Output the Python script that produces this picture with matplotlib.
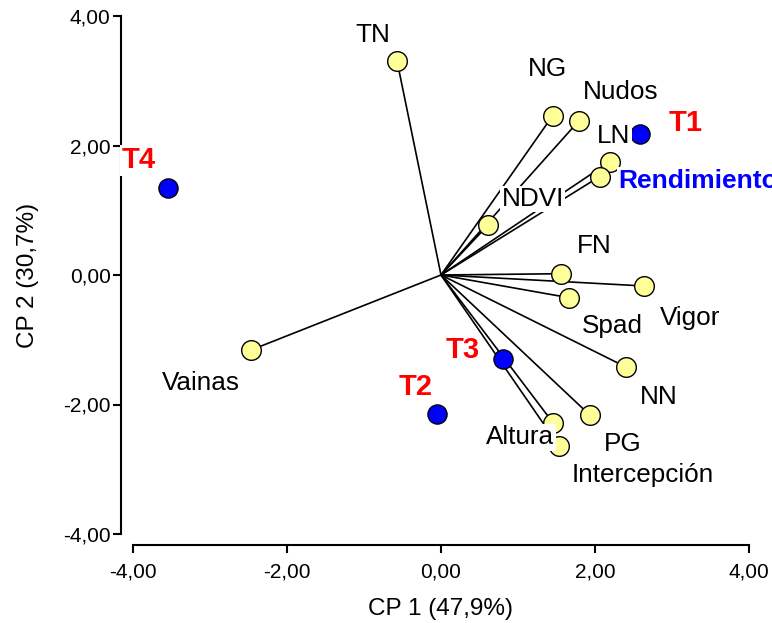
import matplotlib
matplotlib.use("Agg")
import matplotlib.pyplot as plt

# variable loadings (biplot vectors)
variables = ["TN", "NG", "Nudos", "LN", "Rendimiento", "NDVI", "FN", "Vigor",
             "Spad", "NN", "PG", "Altura", "Intercepción", "Vainas"]
var_cp1 = [-0.57, 1.45, 1.79, 2.19, 2.06, 0.61, 1.56, 2.64, 1.66, 2.40, 1.93, 1.46, 1.53, -2.47]
var_cp2 = [3.30, 2.46, 2.38, 1.75, 1.52, 0.77, 0.02, -0.17, -0.35, -1.42, -2.16, -2.29, -2.64, -1.16]

# treatment scores
treatments = ["T1", "T2", "T3", "T4"]
trt_cp1 = [2.58, -0.05, 0.80, -3.54]
trt_cp2 = [2.18, -2.14, -1.29, 1.34]

ticks = [-4, -2, 0, 2, 4]
tick_labels = ["-4,00", "-2,00", "0,00", "2,00", "4,00"]

# label placement, in pixels from the marker
var_offsets = {
    "TN": (-24, 26), "NG": (-5, 47), "Nudos": (42, 29), "LN": (4, 26),
    "Rendimiento": (19, -4), "NDVI": (45, 26), "FN": (33, 28), "Vigor": (46, -32),
    "Spad": (44, -28), "NN": (33, -30), "PG": (33, -29), "Altura": (-33, -14),
    "Intercepción": (84, -29), "Vainas": (-50, -33),
}
trt_offsets = {"T1": (46, 11), "T2": (-22, 27), "T3": (-40, 9), "T4": (-30, 28)}

plt.rcParams["font.family"] = ["Liberation Sans", "DejaVu Sans"]

fig = plt.figure(figsize=(7.72, 6.23), dpi=100)
ax = fig.add_axes([133 / 772, 89 / 623, 616 / 772, 518 / 623])
ax.set_xlim(-4, 4)
ax.set_ylim(-4, 4)

for x, y in zip(var_cp1, var_cp2):
    ax.plot([0, x], [0, y], color="black", linewidth=1.2, zorder=1, clip_on=False)
ax.scatter(var_cp1, var_cp2, s=200, c="#FFFF99", edgecolors="black", linewidths=1.0,
           zorder=2, clip_on=False)
ax.scatter(trt_cp1, trt_cp2, s=190, c="#0000FF", edgecolors="black", linewidths=1.0,
           zorder=2, clip_on=False)

box = dict(boxstyle="square,pad=0.05", fc="white", ec="none")
for name, x, y in zip(variables, var_cp1, var_cp2):
    highlight = name == "Rendimiento"
    ax.annotate(name, (x, y), xytext=var_offsets[name], textcoords="offset pixels",
                ha="left" if highlight else "center", va="center",
                fontsize=19 if highlight else 18.8,
                fontweight="bold" if highlight else "normal",
                color="#0000FF" if highlight else "black",
                bbox=box, zorder=3, annotation_clip=False)
for name, x, y in zip(treatments, trt_cp1, trt_cp2):
    ax.annotate(name, (x, y), xytext=trt_offsets[name], textcoords="offset pixels",
                ha="center", va="center", fontsize=21, fontweight="bold",
                color="#FF0000", bbox=box, zorder=3, annotation_clip=False)

for side in ["top", "right"]:
    ax.spines[side].set_visible(False)
ax.spines["left"].set_position(("outward", 12 * 0.72))
ax.spines["bottom"].set_position(("outward", 11 * 0.72))
ax.spines["left"].set_bounds(-4, 4)
ax.spines["bottom"].set_bounds(-4, 4)
for side in ["left", "bottom"]:
    ax.spines[side].set_linewidth(1.5)

ax.set_xticks(ticks)
ax.set_xticklabels(tick_labels)
ax.set_yticks(ticks)
ax.set_yticklabels(tick_labels)
ax.tick_params(direction="out", length=5.5, width=1.5, labelsize=15)
ax.tick_params(axis="x", pad=7)
ax.tick_params(axis="y", pad=2)

ax.set_xlabel("CP 1 (47,9%)", fontsize=17.5, labelpad=12)
ax.set_ylabel("CP 2 (30,7%)", fontsize=17.5, labelpad=17)

fig.savefig("out.png", dpi=100)
